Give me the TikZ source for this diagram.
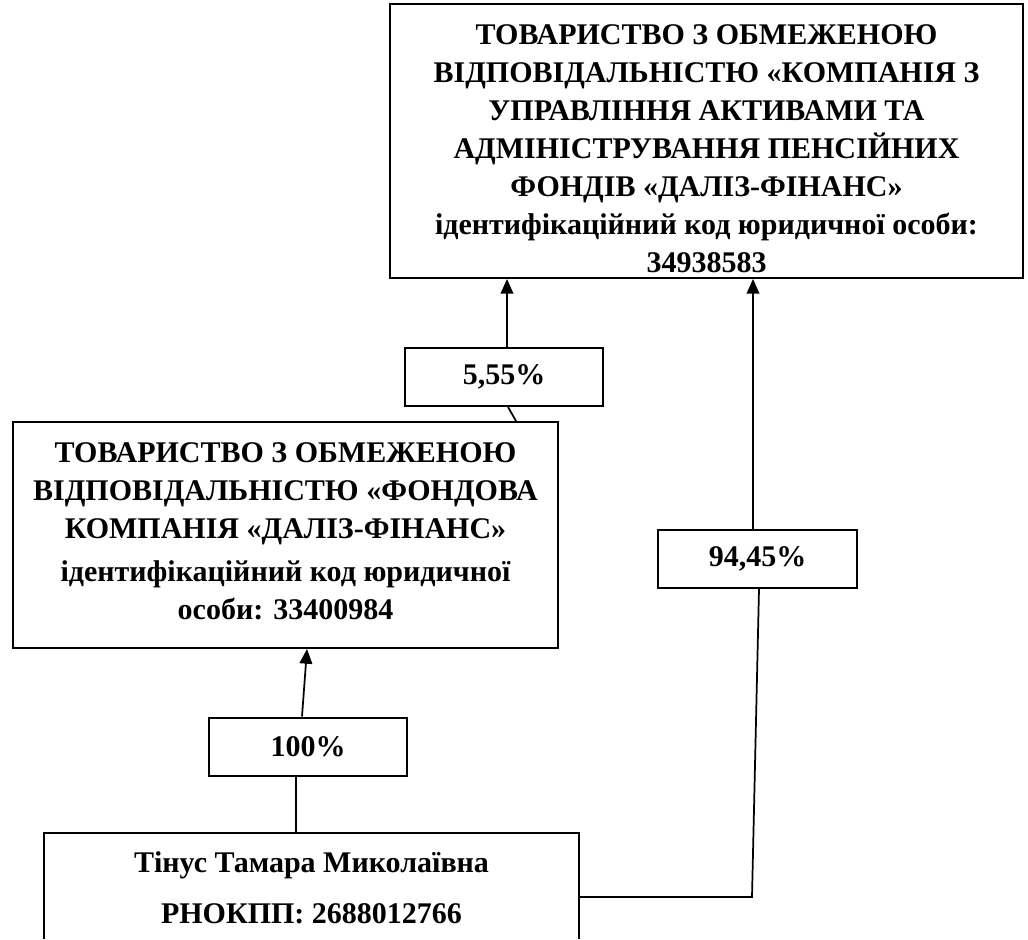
\documentclass[tikz,border=0pt]{standalone}
\usepackage{fontspec}
\setmainfont{Liberation Serif}
\usetikzlibrary{arrows.meta,calc}

\tikzset{
  firm/.style={align=center, inner sep=0pt, font=\bfseries\fontsize{22.5}{28.5}\selectfont},
  framed/.style={draw, line width=1.5pt, inner sep=0pt},
  share/.style={firm, framed, minimum width=149pt, minimum height=43.5pt},
  link/.style={line width=1.3pt},
  own/.style={link, -{Triangle[length=11pt,width=9.5pt]}}
}

\begin{document}
\begin{tikzpicture}[x=0.75pt,y=0.75pt,yscale=-1,xscale=1]
\useasboundingbox (0,0) rectangle (1028,939);

%Shape: Rectangle (asset manager)
\node [framed, minimum width=474.75pt, minimum height=205.5pt] (amc) at (706.5,141) {};
%Shape: Rectangle (stock company)
\node [framed, minimum width=408.75pt, minimum height=169.5pt] (fk) at (285.5,535) {};
%Shape: Rectangle (owner), open at the bottom
\node [minimum width=401.25pt, minimum height=79.5pt, inner sep=0pt] (owner) at (311.5,886) {};
\draw [line width=1.5pt] (owner.south west) -- (owner.north west) -- (owner.north east) -- (owner.south east) ;

% Text Node
\node [firm] (amctxt) at (706.5,149)
  {ТОВАРИСТВО З ОБМЕЖЕНОЮ\\
   ВІДПОВІДАЛЬНІСТЮ «КОМПАНІЯ З\\
   УПРАВЛІННЯ АКТИВАМИ ТА\\
   АДМІНІСТРУВАННЯ ПЕНСІЙНИХ\\
   ФОНДІВ «ДАЛІЗ-ФІНАНС»\\
   ідентифікаційний код юридичної особи:\\
   34938583};
% Text Node
\node [firm] (fktxt) at (285.5,531)
  {ТОВАРИСТВО З ОБМЕЖЕНОЮ\\
   ВІДПОВІДАЛЬНІСТЮ «ФОНДОВА\\
   КОМПАНІЯ «ДАЛІЗ-ФІНАНС»\\[4pt]
   ідентифікаційний код юридичної\\
   особи: 33400984};
% Text Node
\node [firm] (ownertxt) at (311.5,888)
  {Тінус Тамара Миколаївна\\[10pt]
   РНОКПП: 2688012766};

% Text Node
\node [share] (p555) at (504,377) {5,55\%};
% Text Node
\node [share] (p9445) at (757.5,559) {94,45\%};
% Text Node
\node [share] (p100) at (308,746.5) {100\%};

\coordinate (a1) at ($(p555.north)+(3,0)$);
\coordinate (a2) at ($(p9445.north)+(-4.5,0)$);
\coordinate (a3) at ($(p100.south)+(-12,0)$);
\coordinate (elbow) at (752,897);

%Straight Lines
\draw [own] (a1) -- (a1 |- amc.south) ;
\draw [link] ($(fk.north east)+(-43,0)$) -- ($(p555.south)+(4,0)$) ;
\draw [own] ($(p100.north)+(-6,0)$) -- ($(fk.south)+(21.5,0)$) ;
\draw [link] (a3) -- (a3 |- owner.north) ;
\draw [link] ($(owner.east)+(0,11)$) -- (elbow) -- ($(p9445.south)+(1.5,0)$) ;
\draw [own] (a2) -- (a2 |- amc.south) ;

\end{tikzpicture}
\end{document}
